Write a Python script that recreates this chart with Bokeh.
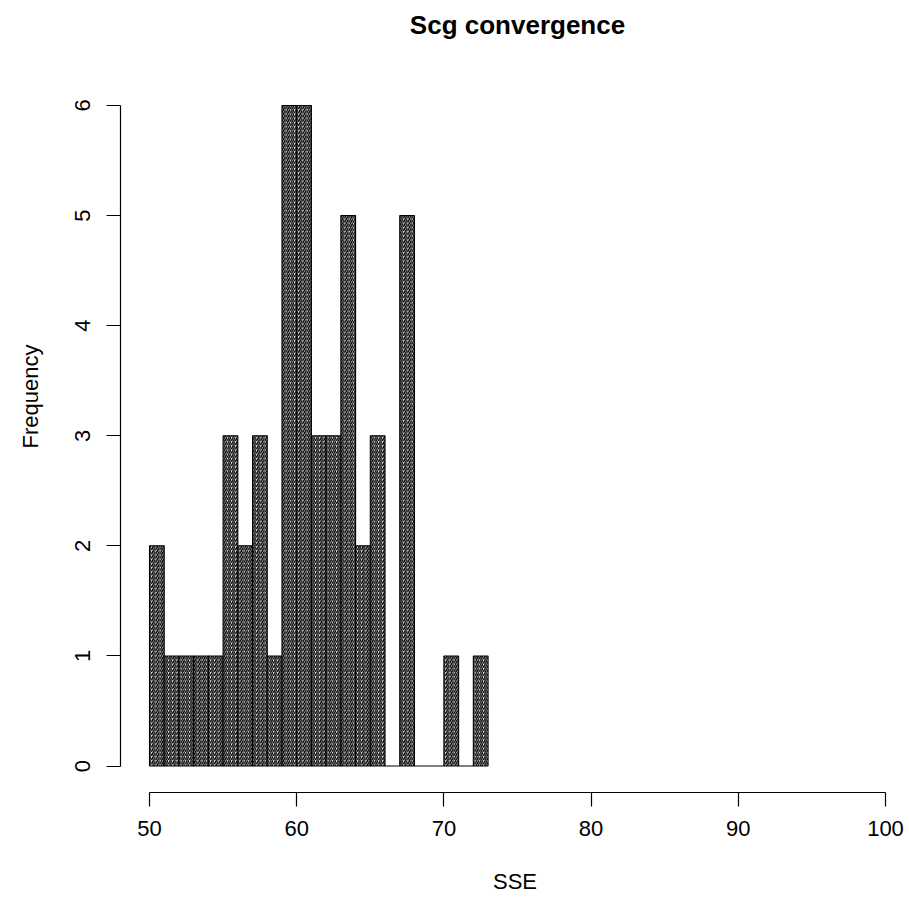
import math
from bokeh.plotting import figure
from bokeh.models import Range1d, FixedTicker
from bokeh.core.properties import value
from bokeh.embed import file_html
from bokeh.resources import INLINE

# Histogram data (SSE bins of width 1 from 50 to 73)
bin_left = [50, 51, 52, 53, 54, 55, 56, 57, 58, 59, 60, 61, 62, 63, 64, 65, 66, 67, 68, 69, 70, 71, 72]
bin_right = [51, 52, 53, 54, 55, 56, 57, 58, 59, 60, 61, 62, 63, 64, 65, 66, 67, 68, 69, 70, 71, 72, 73]
counts = [2, 1, 1, 1, 1, 3, 2, 3, 1, 6, 6, 3, 3, 5, 2, 3, 0, 5, 0, 0, 1, 0, 1]
x_ticks = [50, 60, 70, 80, 90, 100]
y_ticks = [0, 1, 2, 3, 4, 5, 6]
title_text = ["Scg convergence"]

FONT = "Liberation Sans"

# frame reaches the top of the canvas so the title can sit inside it
p = figure(width=909, height=903, output_backend="svg", toolbar_location=None,
           x_range=Range1d(48.03, 101.63), y_range=Range1d(-0.24, 6.953),
           min_border_left=120, min_border_right=0, min_border_top=0, min_border_bottom=111)
p.outline_line_color = None
p.grid.grid_line_color = None
p.background_fill_color = "white"
p.border_fill_color = "white"

p.quad(left=bin_left, right=bin_right, bottom=0, top=counts,
       fill_color="white", line_color="black", line_width=1.1,
       hatch_pattern="/", hatch_color="black", hatch_scale=4.2, hatch_weight=1.4)

# title (centred over the plot region)
p.text(x=[75], y=[6.73], text=title_text, text_font=value(FONT),
       text_font_size="26px", text_font_style="bold", text_color="black",
       text_align="center", text_baseline="middle")

xa = p.xaxis[0]
xa.bounds = (50, 100)
xa.ticker = FixedTicker(ticks=x_ticks)
xa.minor_tick_line_color = None
xa.major_tick_in = 0
xa.major_tick_out = 14
xa.major_label_standoff = 14
xa.axis_label = "SSE"
xa.axis_label_standoff = 30

ya = p.yaxis[0]
ya.bounds = (0, 6)
ya.ticker = FixedTicker(ticks=y_ticks)
ya.minor_tick_line_color = None
ya.major_tick_in = 0
ya.major_tick_out = 14
ya.major_label_standoff = 16
ya.major_label_orientation = "vertical"
ya.axis_label = "Frequency"
ya.axis_label_standoff = 30

for ax in (xa, ya):
    ax.axis_line_color = "black"
    ax.axis_line_width = 1.2
    ax.major_tick_line_color = "black"
    ax.major_tick_line_width = 1.2
    ax.major_label_text_font = FONT
    ax.major_label_text_font_size = "22px"
    ax.major_label_text_color = "black"
    ax.axis_label_text_font = FONT
    ax.axis_label_text_font_size = "22px"
    ax.axis_label_text_font_style = "normal"
    ax.axis_label_text_color = "black"

open("out.html", "w").write(file_html(p, INLINE))
